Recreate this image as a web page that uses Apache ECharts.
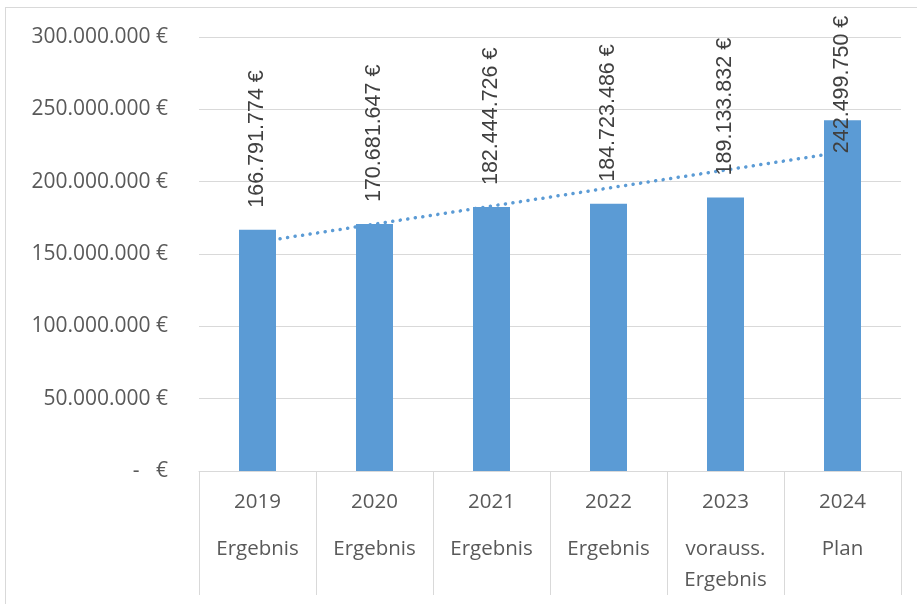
<!DOCTYPE html>
<html>
<head>
<meta charset="utf-8">
<script src="https://cdn.jsdelivr.net/npm/echarts@6/dist/echarts.min.js"></script>
<style>
  html, body { margin: 0; padding: 0; background: #fff; overflow: hidden; }
  #frame { position: absolute; left: 5px; top: 7px; width: 930px; height: 620px; border: 1px solid #d9d9d9; }
  #chart { position: absolute; left: 0; top: 0; width: 917px; height: 604px; }
</style>
</head>
<body>
<div id="frame"></div>
<div id="chart"></div>
<script>
// categories: year + kind of value
var years = ['2019', '2020', '2021', '2022', '2023', '2024'];
var kinds = ['Ergebnis', 'Ergebnis', 'Ergebnis', 'Ergebnis', 'vorauss.\nErgebnis', 'Plan'];
var values = [166791774, 170681647, 182444726, 184723486, 189133832, 242499750];
// dotted linear trend, end points
var trendStart = 158200000;
var trendEnd = 220500000;
var yTicks = [0, 50000000, 100000000, 150000000, 200000000, 250000000, 300000000];

function fmtEuro(v){
	if (v == 0) return '-   €';
	return Math.round(v).toString().replace(/\B(?=(\d{3})+(?!\d))/g, '.') + ' €';
}

var axisFont = '"Open Sans", sans-serif';
var labelFont = '"Liberation Sans", Arial, sans-serif';

var barData = values.map(function(v, i){
	var item = { value: v };
	// last label doesn't fit above the bar, Excel pushes it down inside the plot
	if (i == values.length - 1) item.label = { distance: -33 };
	return item;
});

var chart = echarts.init(document.getElementById('chart'));
chart.setOption({
	animation: false,
	grid: { left: 199, right: 16, top: 37, bottom: 133, containLabel: false },
	xAxis: {
		type: 'category',
		data: years,
		axisLine: { show: true, lineStyle: { color: '#d9d9d9', width: 1 } },
		axisTick: { show: true, length: 124, lineStyle: { color: '#d9d9d9' } },
		axisLabel: {
			margin: 0,
			interval: 0,
			formatter: function(v, i){
				var lines = kinds[i].split('\n').map(function(s){ return '{b|' + s + '}'; });
				return '{a|' + v + '}\n' + lines.join('\n');
			},
			rich: {
				a: { fontFamily: axisFont, fontSize: 20.5, color: '#595959', lineHeight: 63 },
				b: { fontFamily: axisFont, fontSize: 20.5, color: '#595959', lineHeight: 31 }
			}
		}
	},
	yAxis: {
		type: 'value',
		min: 0,
		max: 300000000,
		interval: 50000000,
		axisLine: { show: false },
		axisTick: { show: false },
		splitLine: { lineStyle: { color: '#d9d9d9', width: 1 } },
		axisLabel: {
			margin: 31,
			fontFamily: axisFont,
			fontSize: 21,
			color: '#595959',
			formatter: function(v){ return fmtEuro(v); }
		}
	},
	series: [
		{
			type: 'line',
			data: [[0, trendStart], [5, trendEnd]],
			symbol: 'none',
			z: 1,
			lineStyle: { color: '#5b9bd5', width: 3.5, type: [0.1, 7.5], cap: 'round' },
			silent: true
		},
		{
			type: 'bar',
			data: barData,
			barWidth: 37,
			z: 2,
			itemStyle: { color: '#5b9bd5' },
			label: {
				show: true,
				position: 'top',
				rotate: 90,
				align: 'left',
				verticalAlign: 'middle',
				distance: 22,
				fontFamily: labelFont,
				fontSize: 21.5,
				color: '#404040',
				formatter: function(p){ return fmtEuro(p.value); }
			}
		}
	]
});
</script>
</body>
</html>
